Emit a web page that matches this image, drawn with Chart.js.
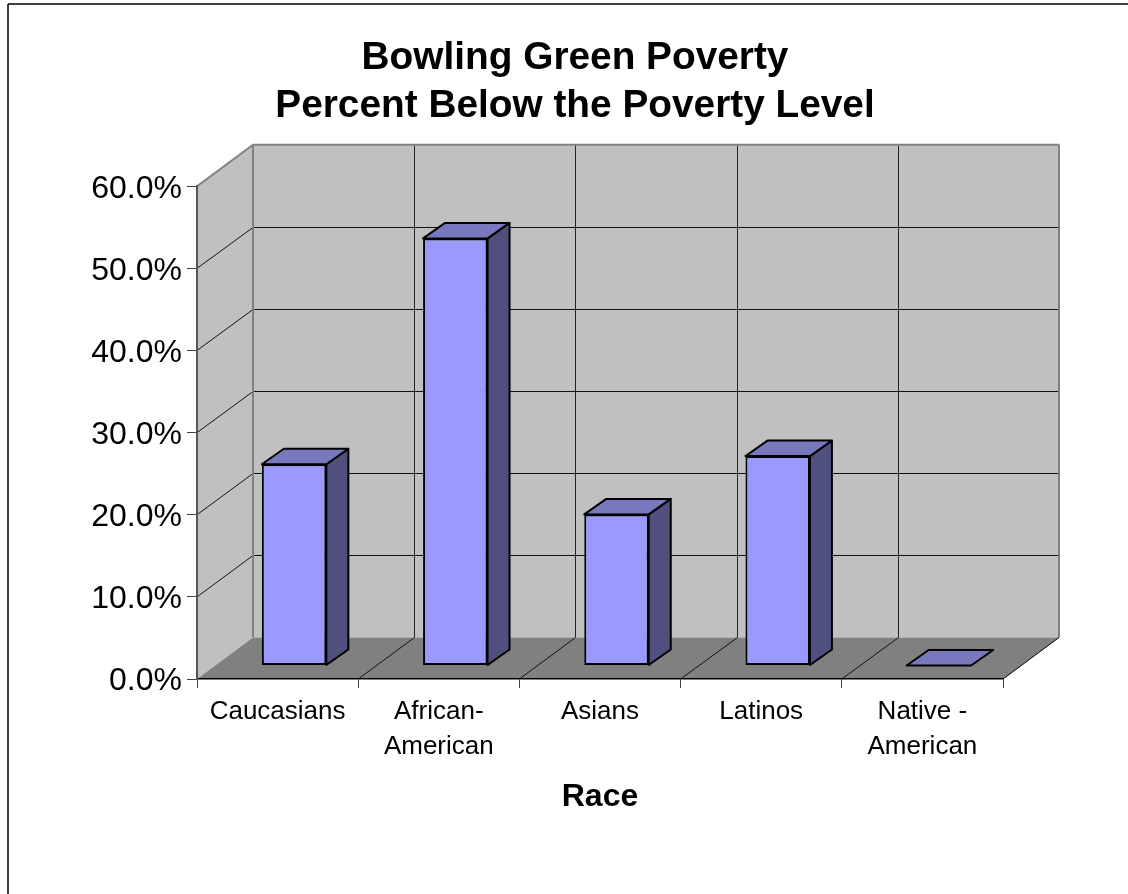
<!DOCTYPE html>
<html>
<head>
<meta charset="utf-8">
<title>Bowling Green Poverty</title>
<script src="https://cdn.jsdelivr.net/npm/chart.js@4"></script>
<style>
    html, body { margin: 0; padding: 0; background: #fff; overflow: hidden; }
    canvas { display: block; }
</style>
</head>
<body>
<canvas id="myChart" width="1128" height="894"></canvas>
<script>
const categories = ['Caucasians', ['African-', 'American'], 'Asians', 'Latinos', ['Native -', 'American']];
const povertyPercent = [24.5, 52.0, 18.4, 25.5, 0];
const titleLines = ['Bowling Green Poverty', 'Percent Below the Poverty Level'];

// Depth of the fake 3D box and of the columns standing in it
const WALL_DX = 56, WALL_DY = 41.5;
const BAR_SHIFT_X = 16.5, BAR_SHIFT_Y = 13.5;
const BAR_DX = 22, BAR_DY = 15.5;

function fillPoly(ctx, pts, fill, stroke, lineWidth) {
    ctx.beginPath();
    pts.forEach((p, i) => i ? ctx.lineTo(p[0], p[1]) : ctx.moveTo(p[0], p[1]));
    ctx.closePath();
    ctx.fillStyle = fill;
    ctx.fill();
    if (stroke) {
        ctx.strokeStyle = stroke;
        ctx.lineWidth = lineWidth;
        ctx.lineJoin = 'round';
        ctx.stroke();
    }
}

function line(ctx, x1, y1, x2, y2, color, width) {
    ctx.beginPath();
    ctx.moveTo(x1, y1);
    ctx.lineTo(x2, y2);
    ctx.strokeStyle = color;
    ctx.lineWidth = width;
    ctx.stroke();
}

// Walls, floor and grid, painted before the axes
const boxPlugin = {
    id: 'box',
    beforeDraw(chart) {
        const { ctx, chartArea: a, scales } = chart;
        const dx = WALL_DX, dy = WALL_DY;
        ctx.save();

        // outer frame
        line(ctx, 8, 4, 1128, 4, '#000', 1.5);
        line(ctx, 8, 4, 8, 894, '#000', 1.5);

        fillPoly(ctx, [[a.left, a.top], [a.left + dx, a.top - dy], [a.left + dx, a.bottom - dy], [a.left, a.bottom]], '#c0c0c0');
        fillPoly(ctx, [[a.left + dx, a.top - dy], [a.right + dx, a.top - dy], [a.right + dx, a.bottom - dy], [a.left + dx, a.bottom - dy]], '#c0c0c0');
        fillPoly(ctx, [[a.left, a.bottom], [a.left + dx, a.bottom - dy], [a.right + dx, a.bottom - dy], [a.right, a.bottom]], '#808080');

        // horizontal grid on side and back wall
        scales.y.ticks.forEach(t => {
            if (t.value === 0 || t.value === 60) return;
            const y = scales.y.getPixelForValue(t.value);
            const backY = Math.round(y - dy) + 0.5;
            line(ctx, a.left, y, a.left + dx, backY, '#111', 1);
            line(ctx, a.left + dx, backY, a.right + dx, backY, '#111', 1);
        });

        // category boundaries on floor and back wall
        categories.forEach((c, i) => {
            if (i === 0) return;
            const x = a.left + (a.right - a.left) * i / categories.length;
            const backX = Math.round(x + dx) + 0.5;
            line(ctx, x, a.bottom, backX, a.bottom - dy, '#111', 1);
            line(ctx, backX, a.bottom - dy, backX, a.top - dy, '#222', 1);
        });

        // grey edges of the box
        line(ctx, a.left, a.top, a.left + dx, a.top - dy, '#808080', 2);
        line(ctx, a.left + dx, a.top - dy, a.right + dx, a.top - dy, '#808080', 2);
        line(ctx, a.left + dx, a.top - dy, a.left + dx, a.bottom - dy, '#808080', 2);
        line(ctx, a.right + dx, a.top - dy, a.right + dx, a.bottom - dy, '#808080', 2);
        line(ctx, a.right, a.bottom, a.right + dx, a.bottom - dy, '#000', 1);
        ctx.restore();
    },
    // columns sit inside the box, so everything they draw is shifted back
    beforeDatasetsDraw(chart) {
        chart.ctx.save();
        chart.ctx.translate(BAR_SHIFT_X, -BAR_SHIFT_Y);
    },
    afterDatasetsDraw(chart) {
        const ctx = chart.ctx;
        chart.getDatasetMeta(0).data.forEach(bar => {
            const l = bar.x - bar.width / 2, r = bar.x + bar.width / 2;
            const top = bar.y, base = bar.base;
            if (base - top > 0) {
                fillPoly(ctx, [[r, top], [r + BAR_DX, top - BAR_DY], [r + BAR_DX, base - BAR_DY], [r, base]], '#50507f', '#000', 2);
            }
            fillPoly(ctx, [[l, top], [l + BAR_DX, top - BAR_DY], [r + BAR_DX, top - BAR_DY], [r, top]], '#7878bd', '#000', 2);
        });
        ctx.restore();
    }
};

const ctx = document.getElementById('myChart').getContext('2d');
new Chart(ctx, {
    type: 'bar',
    data: {
        labels: categories,
        datasets: [{
            data: povertyPercent,
            backgroundColor: '#9999ff',
            borderColor: '#000',
            borderWidth: 2,
            borderSkipped: false,
            barPercentage: 0.4,
            categoryPercentage: 1,
            clip: false
        }]
    },
    options: {
        responsive: false,
        animation: false,
        devicePixelRatio: 1,
        layout: { padding: { left: 22, right: 0, top: 0, bottom: 0 } },
        plugins: {
            legend: { display: false },
            tooltip: { enabled: false },
            title: {
                display: true,
                text: titleLines,
                color: '#000',
                font: { family: '"Liberation Sans"', size: 38.8, weight: 'bold', lineHeight: 1.24 },
                padding: { top: 34, bottom: 56 }
            }
        },
        scales: {
            x: {
                offset: true,
                afterFit(scale) { scale.height = 215; },
                grid: { drawOnChartArea: false, tickLength: 9, tickColor: '#444', offset: true },
                border: { color: '#000', width: 1.5 },
                ticks: {
                    color: '#000',
                    autoSkip: false,
                    maxRotation: 0,
                    padding: 7,
                    font: { family: '"Liberation Sans"', size: 26, lineHeight: 1.33 }
                },
                title: {
                    display: true,
                    text: 'Race',
                    color: '#000',
                    font: { family: '"Liberation Sans"', size: 32, weight: 'bold' },
                    padding: { top: 0, bottom: 78 }
                }
            },
            y: {
                min: 0,
                max: 60,
                afterFit(scale) { scale.width = 175; },
                grid: { drawOnChartArea: false, tickLength: 10, tickColor: '#444' },
                border: { color: '#555', width: 2 },
                ticks: {
                    stepSize: 10,
                    color: '#000',
                    padding: 5,
                    labelOffset: 2.5,
                    font: { family: '"Liberation Sans"', size: 32 },
                    callback: v => v.toFixed(1) + '%'
                }
            },
            // empty right column, keeps the plot clear of the right edge
            spacer: {
                position: 'right',
                afterFit(scale) { scale.width = 125; },
                grid: { display: false },
                border: { display: false },
                ticks: { display: false }
            }
        }
    },
    plugins: [boxPlugin]
});
</script>
</body>
</html>
